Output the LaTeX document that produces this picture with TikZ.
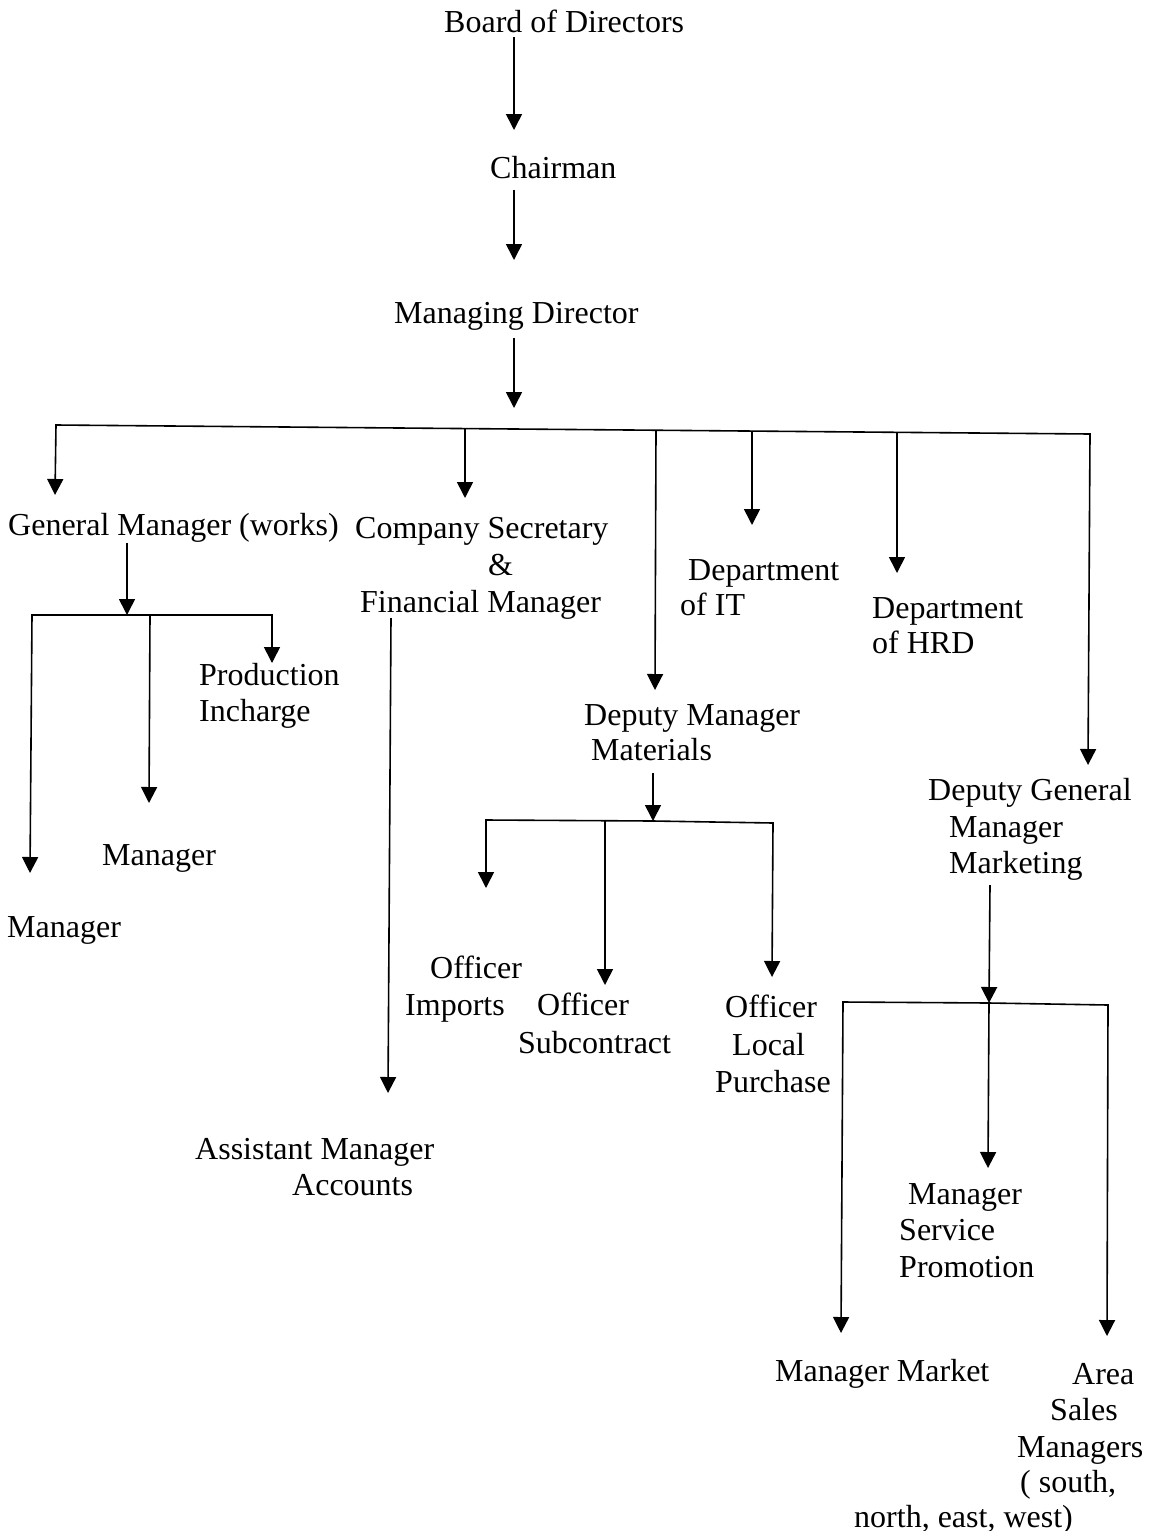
\documentclass[tikz,border=0pt]{standalone}
\usepackage{fontspec}
\setmainfont{Liberation Serif}
\usetikzlibrary{arrows.meta}
\tikzset{
  lbl/.style={anchor=base west, inner sep=0pt, font=\fontsize{32}{36}\selectfont},
  conn/.style={line width=1.6pt},
  arr/.style={line width=1.6pt, -{Triangle[length=16pt,width=16pt]}}
}
\begin{document}
\begin{tikzpicture}[x=1pt,y=-1pt]
\useasboundingbox (0,0) rectangle (1151,1531);
% ---------- labels ----------
\node[lbl] (bod) at (444,32) {Board of Directors};
\node[lbl] (chair) at (490,178) {Chairman};
\node[lbl] (md) at (394,323) {Managing Director};

\node[lbl] (gm) at (8,535) {General Manager (works)};
\node[lbl] (pi1) at (199,685) {Production};
\node[lbl] (pi2) at (199,721) {Incharge};
\node[lbl] (mgrA) at (102,865) {Manager};
\node[lbl] (mgrB) at (7,937) {Manager};

\node[lbl] (cs1) at (355,538) {Company Secretary};
\node[lbl] (cs2) at (488,575) {\&};
\node[lbl] (cs3) at (360,612) {Financial Manager};
\node[lbl] (am1) at (195,1159) {Assistant Manager};
\node[lbl] (am2) at (292,1195) {Accounts};

\node[lbl] (it1) at (688,580) {Department};
\node[lbl] (it2) at (680,615) {of IT};
\node[lbl] (hrd1) at (872,618) {Department};
\node[lbl] (hrd2) at (872,653) {of HRD};

\node[lbl] (dmm1) at (584,725) {Deputy Manager};
\node[lbl] (dmm2) at (591,760) {Materials};
\node[lbl] (oi1) at (430,978) {Officer};
\node[lbl] (oi2) at (405,1015) {Imports};
\node[lbl] (os1) at (537,1015) {Officer};
\node[lbl] (os2) at (518,1053) {Subcontract};
\node[lbl] (ol1) at (725,1017) {Officer};
\node[lbl] (ol2) at (732,1055) {Local};
\node[lbl] (ol3) at (715,1092) {Purchase};

\node[lbl] (dgm1) at (928,800) {Deputy General};
\node[lbl] (dgm2) at (949,837) {Manager};
\node[lbl] (dgm3) at (949,873) {Marketing};
\node[lbl] (msp1) at (908,1204) {Manager};
\node[lbl] (msp2) at (899,1240) {Service};
\node[lbl] (msp3) at (899,1277) {Promotion};
\node[lbl] (mm) at (775,1381) {Manager Market};
\node[lbl] (asm1) at (1072,1384) {Area};
\node[lbl] (asm2) at (1050,1420) {Sales};
\node[lbl] (asm3) at (1017,1457) {Managers};
\node[lbl] (asm4) at (1020,1492) {( south,};
\node[lbl] (asm5) at (854,1527) {north, east, west)};

% ---------- coordinates ----------
\coordinate (bodS) at (514,37);   \coordinate (chairN) at (514,130);
\coordinate (chairS) at (514,190); \coordinate (mdN) at (514,260);
\coordinate (mdS) at (514,338);   \coordinate (mdT) at (514,408);

\coordinate (barL) at (56,425);
\coordinate (barCS) at (465,428.6);
\coordinate (barM) at (514,429);
\coordinate (barDM) at (656,430.2);
\coordinate (barIT) at (752,431);
\coordinate (barHR) at (897,432.3);
\coordinate (barR) at (1090,434);

\coordinate (gmN) at (55,495);
\coordinate (csN) at (465,498);
\coordinate (dmmN) at (655,690);
\coordinate (itN) at (752,525);
\coordinate (hrdN) at (897,573);
\coordinate (dgmN) at (1088,765);

\coordinate (gmS) at (127,543);
\coordinate (gbM) at (127,615);
\coordinate (gbL) at (32,615);
\coordinate (gbC) at (150,615);
\coordinate (gbR) at (272,615);
\coordinate (mgrBN) at (30,873);
\coordinate (mgrAN) at (149,803);
\coordinate (piN) at (272,663);

\coordinate (csS) at (391,618);
\coordinate (amN) at (388,1093);

\coordinate (dmmS) at (653,773);
\coordinate (dbM) at (653,821);
\coordinate (dbL) at (486,820);
\coordinate (dbC) at (605,821.2);
\coordinate (dbR) at (773,823);
\coordinate (oiN) at (486,888);
\coordinate (osN) at (605,985);
\coordinate (olN) at (772,977);

\coordinate (dgmS) at (990,885);
\coordinate (mbM) at (989,1003);
\coordinate (mbL) at (843,1002);
\coordinate (mbR) at (1108,1005);
\coordinate (mspN) at (988,1168);
\coordinate (mmN) at (841,1333);
\coordinate (asmN) at (1107,1336);

% ---------- connectors ----------
\draw[arr] (bodS) -- (chairN);
\draw[arr] (chairS) -- (mdN);
\draw[arr] (mdS) -- (mdT);

\draw[arr] (barM) -- (barL) -- (gmN);
\draw[arr] (barM) -- (barR) -- (dgmN);
\draw[arr] (barCS) -- (csN);
\draw[arr] (barDM) -- (dmmN);
\draw[arr] (barIT) -- (itN);
\draw[arr] (barHR) -- (hrdN);

\draw[arr] (gmS) -- (gbM);
\draw[arr] (gbM) -- (gbL) -- (mgrBN);
\draw[arr] (gbM) -- (gbR) -- (piN);
\draw[arr] (gbC) -- (mgrAN);

\draw[arr] (csS) -- (amN);

\draw[arr] (dmmS) -- (dbM);
\draw[arr] (dbM) -- (dbL) -- (oiN);
\draw[arr] (dbM) -- (dbR) -- (olN);
\draw[arr] (dbC) -- (osN);

\draw[arr] (dgmS) -- (mbM);
\draw[arr] (mbM) -- (mbL) -- (mmN);
\draw[arr] (mbM) -- (mbR) -- (asmN);
\draw[arr] (mbM) -- (mspN);
\end{tikzpicture}
\end{document}
